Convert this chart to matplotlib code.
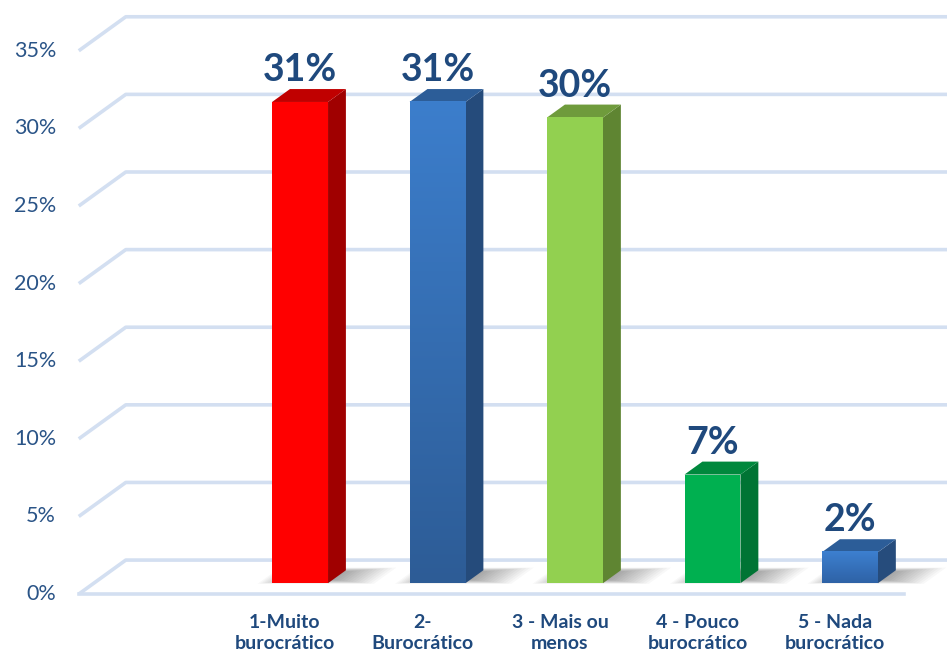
import matplotlib
matplotlib.use("Agg")
import matplotlib.pyplot as plt
from matplotlib.patches import Polygon
import numpy as np

# ---------------- data ----------------
categories = ["1-Muito\nburocrático", "2-\nBurocrático", "3 - Mais ou\nmenos",
              "4 - Pouco\nburocrático", "5 - Nada\nburocrático"]
values = [31, 31, 30, 7, 2]
value_labels = ["31%", "31%", "30%", "7%", "2%"]
yticks = [0, 5, 10, 15, 20, 25, 30, 35]
ytick_labels = ["0%", "5%", "10%", "15%", "20%", "25%", "30%", "35%"]

# ---------------- style ----------------
front_colors = ["#FF0000", None, "#92D050", "#00B050", None]
grad_colors = [None, ("#3C7ECC", "#2D5C96"), None, None, ("#3D80D0", "#2E62A6")]
top_colors = ["#C00000", "#2C5D98", "#6F9B3C", "#00883D", "#2C5D98"]
side_colors = ["#A00000", "#254B7B", "#5F8532", "#007434", "#264C7C"]
text_color = "#1F497D"
tick_color = "#2A5487"
grid_color = "#D3DFF1"

FONT = ["Lato", "DejaVu Sans"]

fig = plt.figure(figsize=(9.47, 6.56), dpi=100)
ax = fig.add_axes([0, 0, 1, 1])
ax.set_xlim(-2.073, 4.815)
ax.set_ylim(-3.99, 38.27)
ax.axis("off")

# oblique projection: depth d in [0,1]
DX, DY = 0.342, 2.19


def proj(x, v, d):
    return (x + DX * d, v + DY * d)


n = len(categories)
x_left, x_right = -1.5, n - 0.5
x_far = x_right + 0.6

# gridlines: left wall diagonal + back wall horizontal
for v in yticks:
    p0 = proj(x_left, v, 0)
    p1 = proj(x_left, v, 1)
    p2 = proj(x_far, v, 1)
    ax.plot([p0[0], p1[0], p2[0]], [p0[1], p1[1], p2[1]], color=grid_color,
            lw=2.6, solid_capstyle="butt", zorder=1)
# front floor edge
f0 = proj(x_left, 0, 0)
f1 = proj(x_right, 0, 0)
ax.plot([f0[0], f1[0]], [f0[1], f1[1]], color=grid_color, lw=2.6, zorder=1)

# y tick labels
for v, lab in zip(yticks, ytick_labels):
    px, py = proj(x_left, v, 0)
    ax.text(px - 0.165, py, lab, ha="right", va="center", fontsize=15.5,
            color=tick_color, family=FONT)

hw = 0.2035
d0, d1 = 0.32, 0.70

for i, v in enumerate(values):
    x = i
    # soft shadow on floor
    for k in range(14):
        e = 0.025 * k
        shadow = [proj(x - hw - 0.10 + e * 0.6, 0, d0 - 0.02 + e * 0.35),
                  proj(x + hw + 0.34 - e, 0, d0 - 0.02 + e * 0.35),
                  proj(x + hw + 0.34 - e, 0, d1 + 0.08 - e * 0.35),
                  proj(x - hw - 0.10 + e * 0.6, 0, d1 + 0.08 - e * 0.35)]
        ax.add_patch(Polygon(shadow, closed=True, facecolor="#000000",
                             edgecolor="none", alpha=0.028, zorder=2))

    front = [proj(x - hw, 0, d0), proj(x + hw, 0, d0),
             proj(x + hw, v, d0), proj(x - hw, v, d0)]
    side = [proj(x + hw, 0, d0), proj(x + hw, 0, d1),
            proj(x + hw, v, d1), proj(x + hw, v, d0)]
    top = [proj(x - hw, v, d0), proj(x + hw, v, d0),
           proj(x + hw, v, d1), proj(x - hw, v, d1)]

    ax.add_patch(Polygon(side, closed=True, facecolor=side_colors[i],
                         edgecolor="none", zorder=3))
    ax.add_patch(Polygon(top, closed=True, facecolor=top_colors[i],
                         edgecolor="none", zorder=3))
    if grad_colors[i] is None:
        ax.add_patch(Polygon(front, closed=True, facecolor=front_colors[i],
                             edgecolor="none", zorder=4))
    else:
        c_top = np.array(matplotlib.colors.to_rgb(grad_colors[i][0]))
        c_bot = np.array(matplotlib.colors.to_rgb(grad_colors[i][1]))
        t = np.linspace(0, 1, 256)[:, None]
        grad = (c_top[None, :] * (1 - t) + c_bot[None, :] * t)[:, None, :]
        (fx0, fy0), (fx1, _), (_, fy1), _ = front
        ax.imshow(grad, extent=(fx0, fx1, fy0, fy1), origin="upper",
                  aspect="auto", interpolation="bilinear", zorder=4)

    # value label
    lx, ly = proj(x, v, d0)
    _, ty = proj(x, v, d1)
    ax.text(lx, ty + 0.5, value_labels[i], ha="center", va="baseline",
            fontsize=27, fontweight="bold", color=text_color, family=FONT,
            zorder=6)

    # category label
    cx, cy = proj(x, 0, 0)
    ax.text(cx, cy - 2.5, categories[i], ha="center", va="center",
            fontsize=14, fontweight="bold", color=text_color, family=FONT,
            linespacing=1.3)

ax.set_xlim(-2.073, 4.815)
ax.set_ylim(-3.99, 38.27)

fig.savefig("out.png", dpi=100)
